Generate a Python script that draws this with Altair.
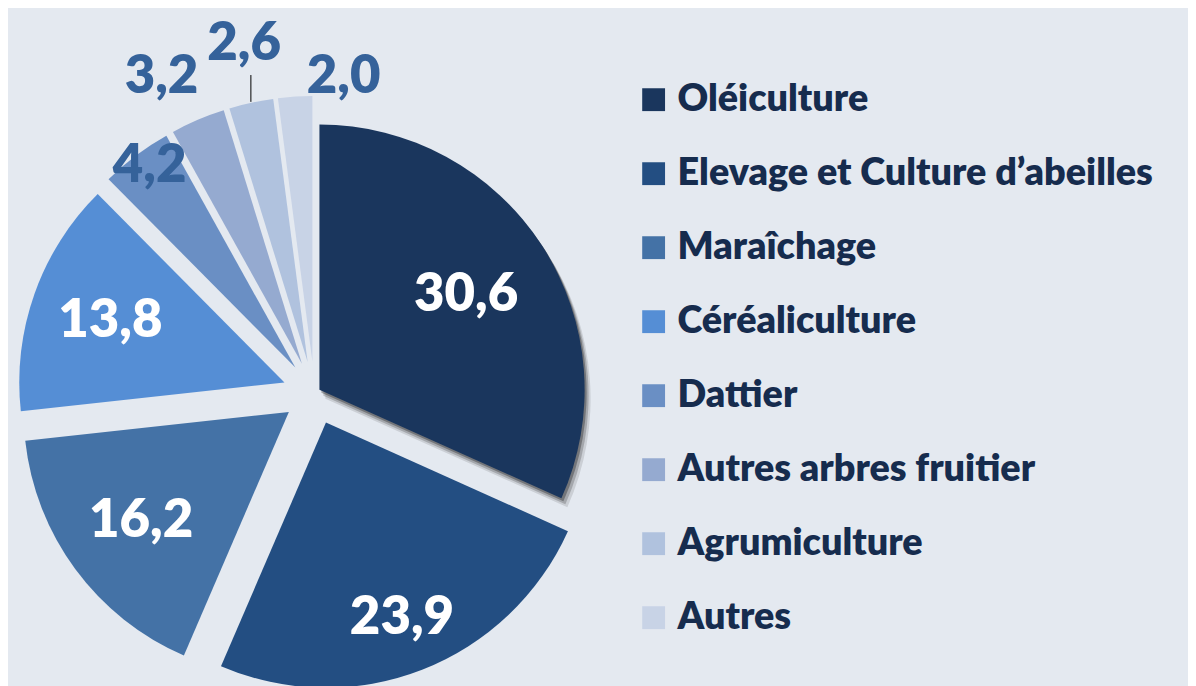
import math
import altair as alt
import pandas as pd

# ---- data ----
categories = ["Oléiculture", "Elevage et Culture d’abeilles", "Maraîchage",
              "Céréaliculture", "Dattier", "Autres arbres fruitier",
              "Agrumiculture", "Autres"]
values = [30.6, 23.9, 16.2, 13.8, 4.2, 3.2, 2.6, 2.0]
value_labels = ["30,6", "23,9", "16,2", "13,8", "4,2", "3,2", "2,6", "2,0"]

# ---- style ----
colors = ["#1a365d", "#234e82", "#4472a6", "#558ed5",
          "#6a8fc4", "#95aad0", "#b0c2de", "#c8d3e6"]
label_colors = ["#ffffff"] * 4 + ["#35629a"] * 4
explode = [6, 32, 32, 32, 32, 32, 32, 32]        # px outward shift per slice
label_radius = [176, 211, 185, 186, 250, 321, 326, 288]
label_shift_deg = [0, 0, 0, 0, 1, -3, 1, 10]
leader = [0, 0, 0, 0, 0, 0, 1, 0]

CX, CY, R = 308.5, 385.3, 267
TOTAL = sum(values)

df = pd.DataFrame({
    "category": categories,
    "value": values,
    "label": value_labels,
    "order": list(range(len(categories))),
    "lcolor": label_colors,
    "explode": explode,
    "lr": label_radius,
    "lshift": label_shift_deg,
    "leader": leader,
})

base = (
    alt.Chart(df)
    .transform_window(cum="sum(value)", sort=[alt.SortField("order")], frame=[None, 0])
    .transform_calculate(start="datum.cum - datum.value")
    .transform_calculate(mid=f"(datum.cum - datum.value / 2) / {TOTAL} * 2 * PI")
    .transform_calculate(cx=f"{CX} + datum.explode * sin(datum.mid)")
    .transform_calculate(cy=f"{CY} - datum.explode * cos(datum.mid)")
    .transform_calculate(lx="datum.cx + datum.lr * sin(datum.mid + datum.lshift * PI / 180)")
    .transform_calculate(ly="datum.cy - datum.lr * cos(datum.mid + datum.lshift * PI / 180)")
    .transform_calculate(ox=f"datum.cx + {R + 1} * sin(datum.mid)")
    .transform_calculate(oy=f"datum.cy - {R + 1} * cos(datum.mid)")
    .transform_calculate(oy2="datum.oy - 27")
)

theta_scale = alt.Scale(domain=[0, TOTAL], range=[0, 2 * math.pi])

shadows = []
for dx, dy, op in [(6, 9, 0.12), (4, 6, 0.22), (2, 3, 0.35)]:
    shadows.append(
        base.transform_filter("datum.order == 0")
        .transform_calculate(sx=f"datum.cx + {dx}", sy=f"datum.cy + {dy}")
        .mark_arc(outerRadius=R, color="#1b1b1b", opacity=op)
        .encode(
            theta=alt.Theta("start:Q", scale=theta_scale),
            theta2="cum:Q",
            x=alt.X("sx:Q", scale=None, axis=None),
            y=alt.Y("sy:Q", scale=None, axis=None),
        )
    )

arcs = base.mark_arc(outerRadius=R).encode(
    theta=alt.Theta("start:Q", scale=theta_scale),
    theta2="cum:Q",
    x=alt.X("cx:Q", scale=None, axis=None),
    y=alt.Y("cy:Q", scale=None, axis=None),
    color=alt.Color(
        "category:N",
        scale=alt.Scale(domain=categories, range=colors),
        legend=alt.Legend(
            orient="none", legendX=631, legendY=71, title=None,
            symbolType="square", symbolSize=529, symbolStrokeWidth=0,
            symbolOpacity=1,
            labelFont="Lato", labelFontSize=38, labelFontWeight=800,
            labelColor="#162c4e", labelOffset=5, rowPadding=36.5,
            labelLimit=700,
        ),
    ),
    order=alt.Order("order:Q"),
)

texts = base.mark_text(
    font="Lato", fontSize=53, fontWeight=800, align="center", baseline="middle"
).encode(
    x=alt.X("lx:Q", scale=None, axis=None),
    y=alt.Y("ly:Q", scale=None, axis=None),
    text="label:N",
    color=alt.Color("lcolor:N", scale=None),
)

leader_line = base.transform_filter("datum.leader == 1").mark_rule(
    color="#000000", strokeWidth=1
).encode(
    x=alt.X("ox:Q", scale=None, axis=None),
    y=alt.Y("oy:Q", scale=None, axis=None),
    y2=alt.Y2("oy2:Q"),
)

chart = (
    alt.layer(*shadows, arcs, leader_line, texts)
    .properties(width=1188, height=678, autosize="none", padding=0)
    .configure(background="#e4e9f0")
    .configure_view(strokeWidth=0)
)

chart.save("out.html", embed_options={"renderer": "svg", "actions": False})
